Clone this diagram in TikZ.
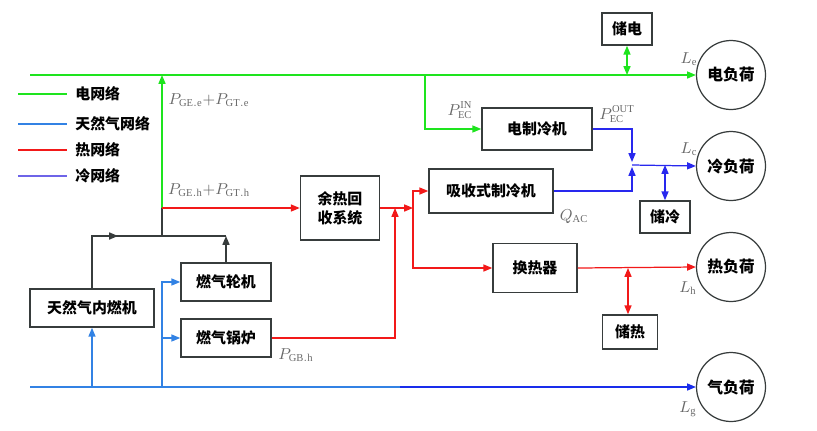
\documentclass[tikz,border=0pt]{standalone}
\usepackage{fontspec}
\setmainfont{Liberation Serif}
\newfontfamily\cjk{Noto Sans CJK SC}
\usetikzlibrary{arrows.meta,positioning,calc}
\definecolor{elecgreen}{RGB}{30,228,30}
\definecolor{gasblue}{RGB}{50,130,228}
\definecolor{gasdeep}{RGB}{25,45,235}
\definecolor{heatred}{RGB}{242,25,25}
\definecolor{coldblue}{RGB}{40,40,238}
\definecolor{coldlegend}{RGB}{110,100,232}
\definecolor{boxline}{RGB}{55,60,60}
\definecolor{labelgray}{RGB}{105,105,105}

\begin{document}
\begin{tikzpicture}[
  x=0.02cm, y=-0.02cm,
  unit/.style={draw=boxline, line width=0.9pt, align=center, inner sep=0pt, font=\cjk\bfseries\fontsize{8.5}{11}\selectfont},
  load/.style={draw=boxline, line width=0.7pt, circle, minimum size=1.38cm, inner sep=0pt, font=\cjk\bfseries\fontsize{9}{11}\selectfont},
  lbl/.style={text=labelgray, inner sep=0pt, font=\fontsize{9}{10}\selectfont},
  legtxt/.style={anchor=west, inner xsep=0.16cm, inner ysep=0pt, font=\cjk\bfseries\fontsize{8.5}{10}\selectfont},
  arr/.style={-{Triangle[length=5pt,width=4pt]}},
  arr2/.style={{Triangle[length=5pt,width=4pt]}-{Triangle[length=5pt,width=4pt]}},
  elec/.style={draw=elecgreen, line width=0.7pt},
  gas/.style={draw=gasblue, line width=0.7pt},
  gasd/.style={draw=gasdeep, line width=0.7pt},
  heat/.style={draw=heatred, line width=0.7pt},
  cold/.style={draw=coldblue, line width=0.7pt},
  dark/.style={draw=boxline, line width=0.8pt}
]
\useasboundingbox (0,0) rectangle (817,430);

\node[unit, minimum width=2.48cm, minimum height=0.76cm] (ice) at (92,308) {天然气内燃机};
\node[unit, minimum width=1.8cm, minimum height=0.76cm] (gt) at (226,282) {燃气轮机};
\node[unit, minimum width=1.8cm, minimum height=0.76cm] (gb) at (226,338) {燃气锅炉};
\node[unit, minimum width=1.58cm, minimum height=1.28cm] (whr) at (340,208) {余热回\\收系统};
\node[unit, minimum width=2.48cm, minimum height=0.88cm] (ac) at (491,191) {吸收式制冷机};
\node[unit, minimum width=2.2cm, minimum height=0.84cm] (ec) at (537,129) {电制冷机};
\node[unit, minimum width=1.68cm, minimum height=0.98cm] (hx) at (535,268) {换热器};
\node[unit, minimum width=1.0cm, minimum height=0.64cm] (es) at (627,29) {储电};
\node[unit, minimum width=1.0cm, minimum height=0.64cm] (cs) at (665,217) {储冷};
\node[unit, minimum width=1.1cm, minimum height=0.68cm] (hs) at (630,332) {储热};

\node[load] (Le) at (731,75) {电负荷};
\node[load] (Lc) at (731,166) {冷负荷};
\node[load] (Lh) at (731,267) {热负荷};
\node[load] (Lg) at (731,387) {气负荷};

\coordinate (lgE) at (18,94);
\coordinate (lgG) at (18,124);
\coordinate (lgH) at (18,150);
\coordinate (lgC) at (18,176);
\node[legtxt] (tE) at (67,94) {电网络};
\node[legtxt] (tG) at (67,124) {天然气网络};
\node[legtxt] (tH) at (67,150) {热网络};
\node[legtxt] (tC) at (67,176) {冷网络};
\draw[elec] (lgE) -- (tE.west);
\draw[gas] (lgG) -- (tG.west);
\draw[heat] (lgH) -- (tH.west);
\draw[draw=coldlegend, line width=0.9pt] (lgC) -- (tC.west);

\coordinate (ebus) at (30,75);
\coordinate (gbus) at (30,387);
\coordinate (gmid) at (400,387);
\coordinate (mix) at (162,236);
\coordinate (split) at (162,208);
\coordinate (etap) at (425,75);
\coordinate (gtap) at (162,387);
\coordinate (hsplit) at (413,208);
\coordinate (hup) at (395,208);
\coordinate (cj) at (632,165);

\draw[elec, arr] (ebus) -- (Le.west);
\draw[elec, arr] (split) -- (split |- ebus);
\draw[elec, arr] (etap) |- (ec.west);
\draw[elec, arr2] (es.south) -- (es.south |- ebus);

\draw[dark] (ice.north) |- (mix);
\draw[dark, arr] (ice.north |- mix) -- ++(26,0);
\draw[dark, arr] (gt.north) -- (gt.north |- mix);
\draw[dark] (gt.north |- mix) -- (mix) -- (split);

\draw[gas] (gbus) -- (gmid);
\draw[gasd, arr] (gmid) -- (Lg.west);
\draw[gas] (gtap) -- (gtap |- gt.west);
\draw[gas, arr] (ice.south |- gbus) -- (ice.south);
\draw[gas, arr] (gtap) |- (gt.west);
\draw[gas, arr] (gtap) |- (gb.west);

\draw[heat, arr] (split) -- (whr.west);
\draw[heat, arr] (gb.east) -| (hup);
\draw[heat, arr] (whr.east) -- (hsplit);
\draw[heat, arr] (hsplit) |- (ac.west);
\draw[heat, arr] (hsplit) |- (hx.west);
\draw[heat, arr] (hx.east) -- (Lh.west);
\draw[heat, arr2] (hs.north -| 628,0) -- (628,0 |- hx.east);

\draw[cold, arr] (ec.east) -| ($(cj)+(0,-3)$);
\draw[cold, arr] (ac.east) -| ($(cj)+(0,2)$);
\draw[cold, arr] (cj) -- (Lc.west);
\draw[cold, arr2] (cs.north) -- (cs.north |- cj);

\node[lbl] (pe) at (209,100) {$P_{\mathrm{GE.e}}{+}P_{\mathrm{GT.e}}$};
\node[lbl] (ph) at (209,190) {$P_{\mathrm{GE.h}}{+}P_{\mathrm{GT.h}}$};
\node[lbl] (pin) at (460,110) {$P_{\mathrm{EC}}^{\mathrm{IN}}$};
\node[lbl] (pout) at (617,114) {$P_{\mathrm{EC}}^{\mathrm{OUT}}$};
\node[lbl] (qac) at (574,217) {$Q_{\mathrm{AC}}$};
\node[lbl] (pgb) at (296,355) {$P_{\mathrm{GB.h}}$};
\node[lbl] (le) at (689,59) {$L_{\mathrm{e}}$};
\node[lbl] (lc) at (689,149) {$L_{\mathrm{c}}$};
\node[lbl] (lh) at (688,288) {$L_{\mathrm{h}}$};
\node[lbl] (lg) at (688,409) {$L_{\mathrm{g}}$};
\end{tikzpicture}
\end{document}
